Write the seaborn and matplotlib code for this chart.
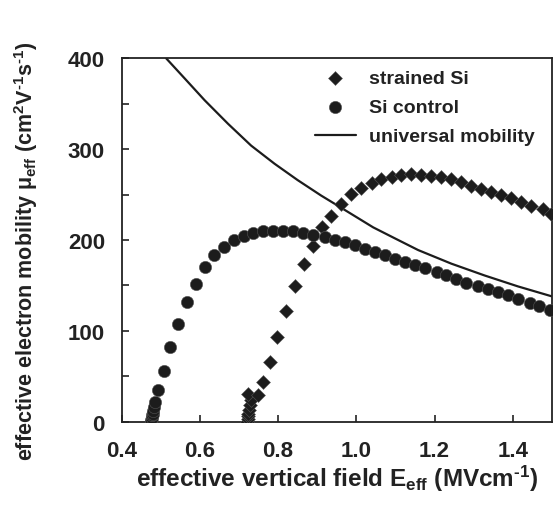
import numpy as np
import pandas as pd
import matplotlib
matplotlib.use("Agg")
import matplotlib.pyplot as plt
import seaborn as sns

# data
control_x = [0.475, 0.476, 0.477, 0.478, 0.479, 0.480, 0.482, 0.486, 0.494, 0.509,
             0.524, 0.545, 0.568, 0.589, 0.613, 0.637, 0.661, 0.686, 0.712, 0.736,
             0.762, 0.787, 0.813, 0.838, 0.864, 0.889, 0.919, 0.945, 0.970, 0.996,
             1.021, 1.047, 1.073, 1.098, 1.124, 1.149, 1.175, 1.205, 1.230, 1.256,
             1.281, 1.311, 1.336, 1.362, 1.388, 1.413, 1.443, 1.468, 1.494]
control_y = [0, 2, 4, 7, 9, 12, 16, 22, 35, 56,
             82, 108, 132, 152, 170, 183, 192, 200, 205, 208,
             210, 210, 210, 210, 208, 206, 203, 200, 198, 195,
             190, 187, 183, 179, 176, 172, 169, 165, 161, 157,
             153, 149, 146, 143, 139, 135, 131, 127, 123]

strained_x = [0.721, 0.722, 0.723, 0.724, 0.726, 0.728, 0.731, 0.723, 0.749, 0.762,
              0.778, 0.797, 0.819, 0.842, 0.865, 0.888, 0.911, 0.936, 0.962, 0.987,
              1.013, 1.039, 1.064, 1.090, 1.115, 1.141, 1.166, 1.192, 1.217, 1.243,
              1.268, 1.294, 1.320, 1.345, 1.371, 1.396, 1.422, 1.447, 1.477, 1.498]
strained_y = [0, 3, 6, 9, 13, 18, 24, 31, 29, 44,
              66, 93, 122, 149, 174, 194, 214, 227, 240, 251,
              257, 263, 267, 269, 272, 273, 272, 271, 269, 267,
              264, 260, 256, 253, 250, 246, 242, 238, 234, 229]

univ_x = [0.514, 0.561, 0.612, 0.672, 0.731, 0.791, 0.850, 0.910, 0.952,
          1.043, 1.098, 1.158, 1.243, 1.328, 1.413, 1.500]
univ_y = [400, 378, 354, 328, 304, 284, 266, 249, 238,
          214, 202, 189, 174, 161, 149, 138]

x_ticks = [0.4, 0.6, 0.8, 1.0, 1.2, 1.4]
y_ticks = [0, 100, 200, 300, 400]

sns.set_style("ticks")
plt.rcParams["font.family"] = ["Liberation Sans", "DejaVu Sans"]
plt.rcParams["font.weight"] = "bold"
plt.rcParams["mathtext.fontset"] = "custom"
plt.rcParams["mathtext.rm"] = "Liberation Sans:bold"
plt.rcParams["mathtext.it"] = "Liberation Sans:bold"
plt.rcParams["mathtext.bf"] = "Liberation Sans:bold"

ink = "#1c1c1c"

fig = plt.figure(figsize=(5.53, 5.06), dpi=100)
ax = fig.add_axes([0.220, 0.1646, 0.778, 0.718])

sns.scatterplot(x=strained_x, y=strained_y, marker="D", s=50, color=ink,
                edgecolor="#555555", linewidth=0.4, ax=ax, label="strained Si",
                zorder=3)
sns.scatterplot(x=control_x, y=control_y, marker="o", s=78, color=ink,
                edgecolor="#555555", linewidth=0.4, ax=ax, label="Si control",
                zorder=3)
sns.lineplot(x=univ_x, y=univ_y, color=ink, linewidth=1.6, ax=ax,
             estimator=None, sort=False, label="universal mobility", zorder=2)

ax.set_xlim(0.4, 1.5)
ax.set_ylim(0, 400)
ax.set_xticks(x_ticks)
ax.set_xticklabels([f"{t:.1f}" for t in x_ticks])
ax.set_yticks(y_ticks)
ax.set_yticks([50, 150, 250, 350], minor=True)

for s in ax.spines.values():
    s.set_linewidth(1.3)
    s.set_color("#222222")
ax.tick_params(axis="both", which="both", direction="in", length=5, width=1.2,
               labelsize=16, colors="#222222")
ax.tick_params(axis="x", pad=13)
ax.tick_params(axis="y", pad=12)
for lab in ax.get_xticklabels() + ax.get_yticklabels():
    lab.set_fontweight("bold")

hy = "\u2010"
ax.set_xlabel("effective vertical field E$_{\\rm eff}$ (MVcm$^{\\rm " + hy + "1}$)",
              fontsize=17.5, fontweight="bold", color="#222222", va="top")
ax.xaxis.set_label_coords(0.5, -0.112)
ax.set_ylabel("effective electron mobility $\\mu_{\\rm eff}$ (cm$^{\\rm 2}$V$^{\\rm " + hy
              + "1}$s$^{\\rm " + hy + "1}$)",
              fontsize=15.5, fontweight="bold", color="#222222")
ax.yaxis.set_label_coords(-0.19, 0.472)

leg = ax.legend(loc="upper left", bbox_to_anchor=(0.449, 0.970), frameon=False,
                fontsize=14, handlelength=2.1, handletextpad=0.7,
                labelspacing=0.6, borderpad=0, borderaxespad=0)
for t in leg.get_texts():
    t.set_fontweight("bold")
    t.set_color("#222222")

fig.savefig("out.png", dpi=100)
